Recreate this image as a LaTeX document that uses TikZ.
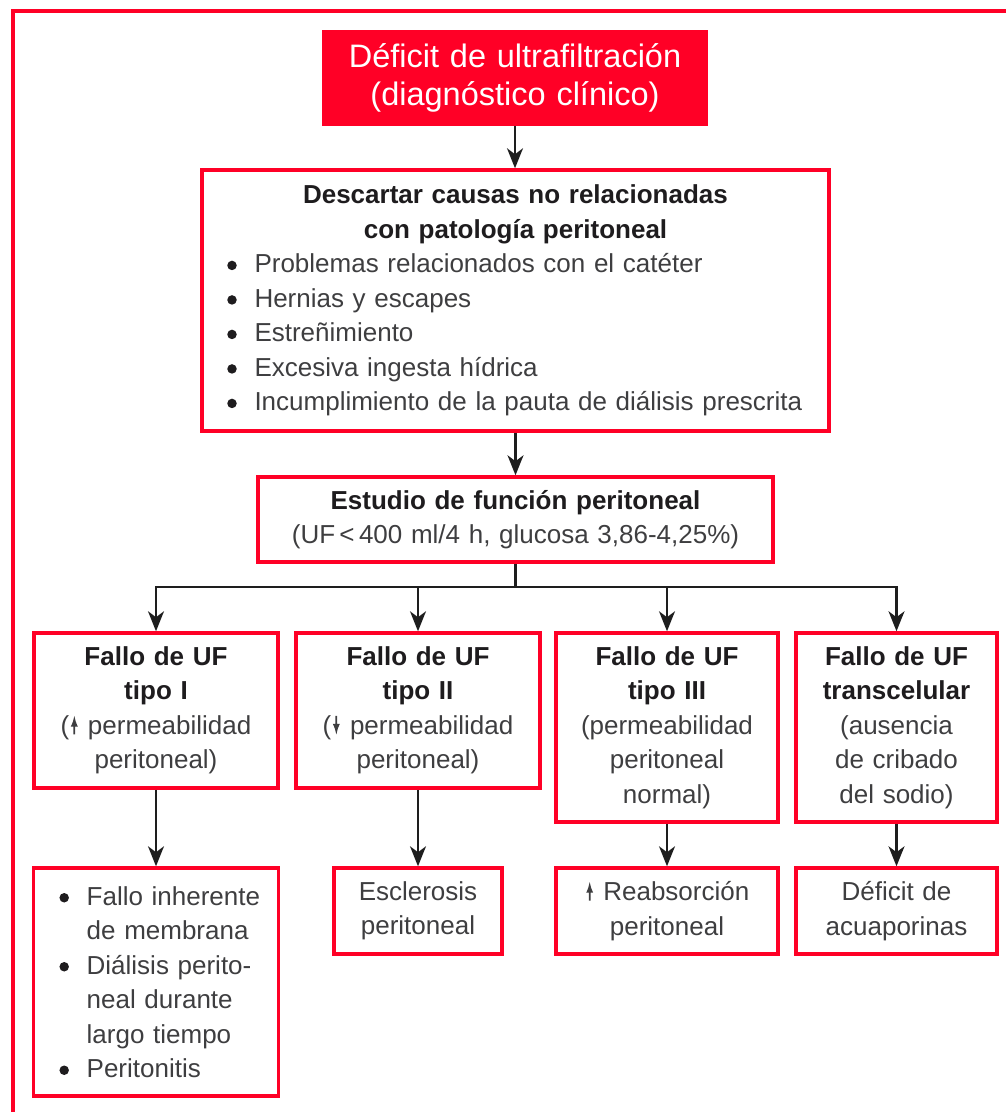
\documentclass[tikz,border=0pt]{standalone}
\usepackage{fontspec}
\usepackage{pict2e}
\setmainfont{Liberation Sans}
\usetikzlibrary{arrows.meta}
\definecolor{ered}{RGB}{255,0,38}
\definecolor{txtgray}{RGB}{62,62,64}
\definecolor{txtdark}{RGB}{30,28,30}
\definecolor{linegray}{RGB}{30,30,30}
\setlength{\parindent}{0pt}
\setlength{\unitlength}{1pt}
\newcommand{\hd}[1]{{\bfseries\color{txtdark}#1}}
\newcommand{\bul}{\makebox[27.5pt][l]{\begin{picture}(0,0)\put(5,7.3){\color{txtdark}\circle*{9.5}}\end{picture}}}
\newcommand{\itm}[1]{\hangindent=27.5pt\hangafter=1\noindent\bul #1\par}
\newcommand{\arrup}{\makebox[10pt]{\begin{picture}(0,0)\linethickness{1.7pt}\put(0,0){\vector(0,1){18.5}}\end{picture}}}
\newcommand{\arrdn}{\makebox[10pt]{\begin{picture}(0,0)\linethickness{1.7pt}\put(0,18.5){\vector(0,-1){18.5}}\end{picture}}}
\begin{document}
\begin{tikzpicture}[x=1pt,y=-1pt,
  rbox/.style={draw=ered, line width=3.5pt, rectangle, inner sep=0pt, align=center,
    text=txtgray, font=\fontsize{26}{34.5}\selectfont},
  txt/.style={inner sep=0pt, text=txtgray, font=\fontsize{26}{34.5}\selectfont},
  arr/.style={draw=linegray, line width=2.1pt, -{Stealth[length=20pt,width=16pt,inset=6pt]}},
  ln/.style={draw=linegray, line width=2.1pt}]
\useasboundingbox (0,0) rectangle (1006,1112);
% outer frame (runs off the page on the right and bottom)
\draw[ered, line width=4.5pt] (13,1150) -- (13,11) -- (1050,11);

\node[rbox, fill=ered, text=white, font=\fontsize{32.5}{38}\selectfont,
  minimum width=382pt, minimum height=92pt, text width=370pt] (top) at (515,78)
  {Déficit de ultrafiltración\\(diagnóstico clínico)};

\node[rbox, minimum width=627pt, minimum height=261pt, text width=577pt, align=left] (desc) at (515.5,300.5)
  {{\centering\hd{Descartar causas no relacionadas}\\\hd{con patología peritoneal}\par}
   \itm{Problemas relacionados con el catéter}
   \itm{Hernias y escapes}
   \itm{Estreñimiento}
   \itm{Excesiva ingesta hídrica}
   \itm{Incumplimiento de la pauta de diálisis prescrita}};

\node[rbox, minimum width=515pt, minimum height=85pt, text width=505pt] (est) at (515.5,519.5)
  {\hd{Estudio de función peritoneal}\\(UF\,<\,400 ml/4 h, glucosa 3,86-4,25\%)};

\node[rbox, minimum width=244pt, minimum height=155pt, text width=234pt] (f1) at (156,710.5)
  {\hd{Fallo de UF}\\\hd{tipo I}\\(\arrup\ permeabilidad\\peritoneal)};
\node[rbox, minimum width=244pt, minimum height=155pt, text width=234pt] (f2) at (418,710.5)
  {\hd{Fallo de UF}\\\hd{tipo II}\\(\arrdn\ permeabilidad\\peritoneal)};
\node[rbox, minimum width=222pt, minimum height=189pt, text width=212pt] (f3) at (667,727.5)
  {\hd{Fallo de UF}\\\hd{tipo III}\\(permeabilidad\\peritoneal\\normal)};
\node[rbox, minimum width=201pt, minimum height=189pt, text width=195pt] (f4) at (896.5,727.5)
  {\hd{Fallo de UF}\\\hd{transcelular}\\(ausencia\\de cribado\\del sodio)};

\node[rbox, minimum width=245pt, minimum height=228pt] (b1) at (156,982) {};
\node[txt, anchor=west, text width=215pt, align=left] (b1t) at (59,982)
  {\itm{Fallo inherente\newline de membrana}
   \itm{Diálisis perito-\newline neal durante\newline largo tiempo}
   \itm{Peritonitis}};
\node[rbox, minimum width=168pt, minimum height=86pt, text width=160pt] (escl) at (418,911)
  {Esclerosis\\peritoneal};
\node[rbox, minimum width=222pt, minimum height=86pt, text width=212pt] (reab) at (667,911)
  {\arrup\ Reabsorción\\peritoneal};
\node[rbox, minimum width=201pt, minimum height=86pt, text width=195pt] (acu) at (896.5,911)
  {Déficit de\\acuaporinas};

% connectors
\draw[arr] (top.south) -- (top.south |- desc.north);
\draw[arr] (desc.south) -- (est.north);
\path (est.south) ++(0,23.5) coordinate (br);
\draw[ln] (est.south) -- (br);
\draw[arr] (br) -| (f1.north);
\draw[arr] (br) -| (f2.north);
\draw[arr] (br) -| (f3.north);
\draw[arr] (br) -| (f4.north);
\draw[arr] (f1.south) -- (b1.north);
\draw[arr] (f2.south) -- (escl.north);
\draw[arr] (f3.south) -- (reab.north);
\draw[arr] (f4.south) -- (acu.north);
\end{tikzpicture}
\end{document}
